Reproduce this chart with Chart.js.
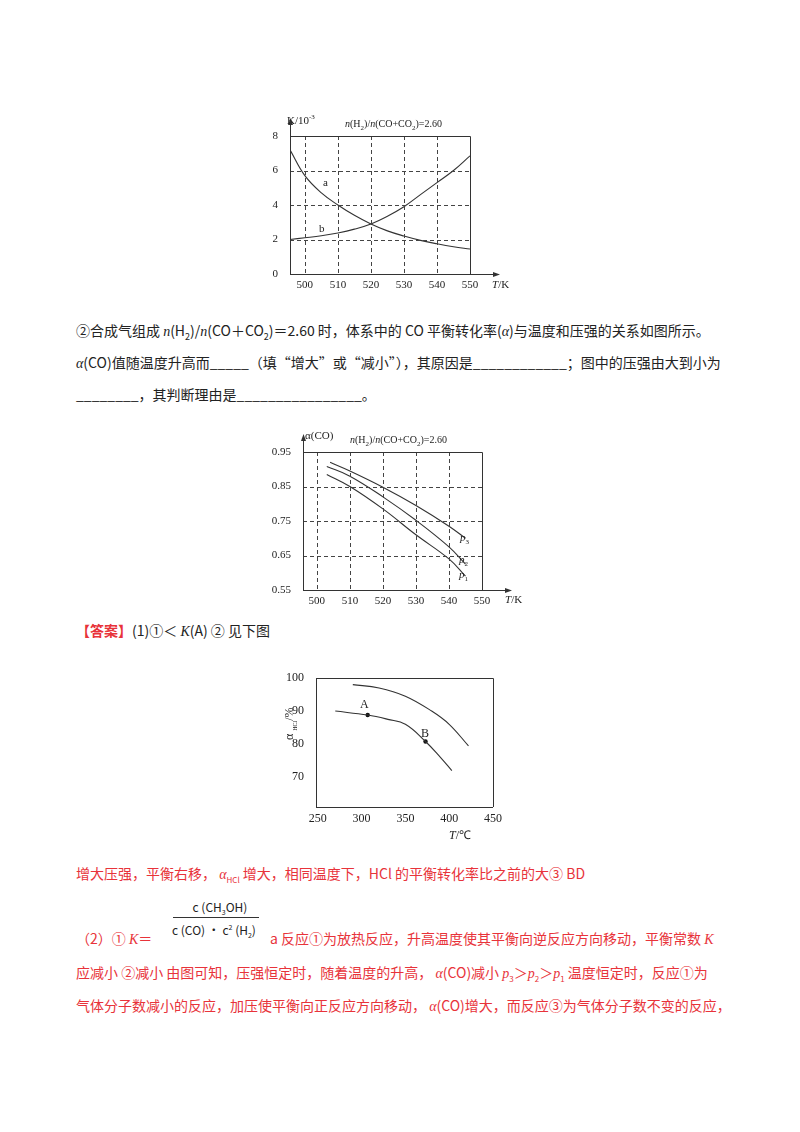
<!DOCTYPE html>
<html><head><meta charset="utf-8">
<script src="https://cdn.jsdelivr.net/npm/chart.js@4"></script>
<style>
body{margin:0;width:800px;height:1132px;background:#fff;position:relative;font-family:"Noto Sans CJK SC",sans-serif;color:#222}
.t{position:absolute;font-size:14px;white-space:nowrap;line-height:20px}
.r{color:#e8333a}
canvas{position:absolute}
.cv{position:absolute}
.lab{position:absolute;font-family:"Liberation Serif",serif;font-size:11px;white-space:nowrap}
i{font-family:"Liberation Serif",serif}
</style></head><body>
<div class="cv" style="left:250px;top:106px;width:270px;height:190px"><canvas id="c1"></canvas></div>
<div class="cv" style="left:260px;top:422px;width:270px;height:190px"><canvas id="c2"></canvas></div>
<div class="cv" style="left:276px;top:664px;width:240px;height:185px"><canvas id="c3"></canvas></div>

<div class="lab" style="left:287px;top:113px">K/10<sup style="font-size:7px">-3</sup></div>
<div class="lab" style="left:345px;top:118px;font-size:10px"><i>n</i>(H<sub style="font-size:7px">2</sub>)/<i>n</i>(CO+CO<sub style="font-size:7px">2</sub>)=2.60</div>
<div class="lab" style="left:323px;top:176px">a</div>
<div class="lab" style="left:319px;top:222px">b</div>
<div class="lab" style="left:492px;top:278px"><i>T</i>/K</div>

<div class="lab" style="left:305px;top:429px">α(CO)</div>
<div class="lab" style="left:350px;top:434px;font-size:10px"><i>n</i>(H<sub style="font-size:7px">2</sub>)/<i>n</i>(CO+CO<sub style="font-size:7px">2</sub>)=2.60</div>
<div class="lab" style="left:460px;top:531px"><i>p</i><sub style="font-size:7px">3</sub></div>
<div class="lab" style="left:459px;top:553px"><i>p</i><sub style="font-size:7px">2</sub></div>
<div class="lab" style="left:459px;top:568px"><i>p</i><sub style="font-size:7px">1</sub></div>
<div class="lab" style="left:505px;top:593px"><i>T</i>/K</div>

<div class="lab" style="left:360px;top:697px;font-size:12px">A</div>
<div class="lab" style="left:421px;top:726px;font-size:12px">B</div>
<div class="lab" style="left:270px;top:716px;transform:rotate(-90deg);font-size:12px;width:40px;text-align:center">α <sub style="font-size:6px">HCl</sub>/%</div>
<div class="lab" style="left:449px;top:826px;font-size:12px"><i>T</i>/℃</div>

<div class="t" style="left:76px;top:320px">②合成气组成 <i>n</i>(H<sub style="font-size:9px">2</sub>)/<i>n</i>(CO＋CO<sub style="font-size:9px">2</sub>)＝2.60 时，体系中的 CO 平衡转化率(<i>α</i>)与温度和压强的关系如图所示。</div>
<div class="t" style="left:76px;top:352px"><i>α</i>(CO)值随温度升高而_____（填“增大”或“减小”），其原因是____________；图中的压强由大到小为</div>
<div class="t" style="left:76px;top:384px">________，其判断理由是________________。</div>
<div class="t" style="left:76px;top:620px"><span class="r" style="font-weight:bold">【答案】</span>(1)①＜ <i>K</i>(A) ② 见下图</div>
<div class="t r" style="left:76px;top:863px">增大压强，平衡右移， <i>α</i><sub style="font-size:8px">HCl</sub> 增大，相同温度下，HCl 的平衡转化率比之前的大③ BD</div>
<div class="t" style="left:175px;top:900px;font-size:12px;line-height:14px;text-align:center;width:90px">c (CH<sub style="font-size:7px">3</sub>OH)</div>
<div style="position:absolute;left:173px;top:917px;width:86px;border-top:1px solid #333"></div>
<div class="t" style="left:172px;top:920px;font-size:12px;line-height:14px">c (CO) · c<sup style="font-size:7px">2</sup> (H<sub style="font-size:7px">2</sub>)</div>
<div class="t r" style="left:76px;top:928px">（2）① <i>K</i>＝</div>
<div class="t r" style="left:270px;top:928px">a  反应①为放热反应，升高温度使其平衡向逆反应方向移动，平衡常数 <i>K</i></div>
<div class="t r" style="left:76px;top:962px">应减小 ②减小 由图可知，压强恒定时，随着温度的升高， <i>α</i>(CO)减小 <i>p</i><sub style="font-size:8px">3</sub>＞<i>p</i><sub style="font-size:8px">2</sub>＞<i>p</i><sub style="font-size:8px">1</sub> 温度恒定时，反应①为</div>
<div class="t r" style="left:76px;top:995px">气体分子数减小的反应，加压使平衡向正反应方向移动， <i>α</i>(CO)增大，而反应③为气体分子数不变的反应，</div>

<script>
// chart 1
const T1 = [495.5,500,505,510,515,520,525,530,535,540,545,550];
const Ka = [7.2,5.7,4.7,4.0,3.4,2.9,2.5,2.2,1.95,1.75,1.58,1.45];
const Kb = [2.0,2.1,2.22,2.38,2.6,2.9,3.35,3.9,4.6,5.3,6.0,6.85];
const xTicks1 = [500,510,520,530,540,550];
const yTicks1 = [0,2,4,6,8];
// chart 2
const T2p3 = [504,510,520,530,540,545];
const P3 = [0.92,0.895,0.848,0.795,0.735,0.70];
const T2p2 = [503,510,520,530,540,545];
const P2 = [0.908,0.88,0.82,0.752,0.675,0.625];
const T2p1 = [503,510,520,530,540,545];
const P1 = [0.885,0.85,0.785,0.71,0.64,0.59];
const xTicks2 = [500,510,520,530,540,550];
const yTicks2 = [0.55,0.65,0.75,0.85,0.95];
// chart 3
const T3u = [290,320,350,380,400,422];
const Au = [98,97,94.5,90,86,79.5];
const T3l = [270,307,330,350,373,390,403];
const Al = [90,88.8,87.5,86,80.8,76,72];
const ptT = [307,373];
const ptA = [88.8,80.8];
const xTicks3 = [250,300,350,400,450];
const yTicks3 = [70,80,90,100];

const F = {family:'"Liberation Serif", serif', size:11};
const F3 = {family:'"Liberation Serif", serif', size:12};
function xy(xs, ys){return xs.map((x,i)=>({x, y:ys[i]}));}

function deco(o){ return {id:'deco', afterDraw(ch){
  const c=ch.ctx, a=ch.chartArea, sx=ch.scales.x, sy=ch.scales.y;
  c.save(); c.strokeStyle='#444'; c.lineWidth=1;
  c.setLineDash([4,3]);
  (o.vx||[]).forEach(v=>{const p=Math.round(sx.getPixelForValue(v))+.5;c.beginPath();c.moveTo(p,a.top);c.lineTo(p,a.bottom);c.stroke();});
  (o.hy||[]).forEach(v=>{const p=Math.round(sy.getPixelForValue(v))+.5;c.beginPath();c.moveTo(a.left,p);c.lineTo(a.right,p);c.stroke();});
  c.setLineDash([]);
  c.strokeStyle='#333';
  c.beginPath();
  c.moveTo(a.left+.5,a.bottom); c.lineTo(a.left+.5,a.top-(o.arrow?14:0));
  c.moveTo(a.left,a.bottom+.5); c.lineTo(a.right+(o.arrow?26:0),a.bottom+.5);
  c.moveTo(a.left,a.top+.5); c.lineTo(a.right+.5,a.top+.5); c.lineTo(a.right+.5,a.bottom);
  c.stroke();
  if(o.arrow){c.fillStyle='#333';c.beginPath();c.moveTo(a.left+.5,a.top-18);c.lineTo(a.left-2,a.top-11);c.lineTo(a.left+3,a.top-11);c.fill();
    c.beginPath();c.moveTo(a.right+30,a.bottom+.5);c.lineTo(a.right+23,a.bottom-2);c.lineTo(a.right+23,a.bottom+3);c.fill();}
  c.restore();
}};}

function mk(id, ds, xr, yr, xt, yt, pad, ywid, o){
  new Chart(document.getElementById(id), {
    type:'scatter',
    data:{datasets:ds},
    options:{responsive:true, maintainAspectRatio:false, animation:false,
      layout:{padding:pad},
      plugins:{legend:{display:false}, tooltip:{enabled:false}},
      scales:{
        x:{type:'linear', min:xr[0], max:xr[1], afterBuildTicks:s=>{s.ticks=xt.map(v=>({value:v}))},
           grid:{display:false, drawTicks:false, tickLength:0}, border:{display:false}, ticks:{color:'#222',font:o.font||F,padding:5,autoSkip:false,maxRotation:0,callback:v=>v},
           afterFit:s=>{s.height=20}},
        y:{type:'linear', min:yr[0], max:yr[1], afterBuildTicks:s=>{s.ticks=yt.map(v=>({value:v}))},
           grid:{display:false}, border:{display:false}, ticks:{color:'#222',font:o.font||F,padding:4,callback:v=>o.fmt?o.fmt(v):v},
           afterFit:s=>{s.width=ywid}}
      }},
    plugins:[deco(o)]
  });
}
const line = (d)=>({data:d, showLine:true, borderColor:'#333', borderWidth:1.1, pointRadius:0, tension:0.4, fill:false});

mk('c1',[line(xy(T1,Ka)),line(xy(T1,Kb))],[495.5,550],[0,8],xTicks1,yTicks1,{top:30,right:50,left:0,bottom:2},40,
   {vx:[500,510,520,530,540],hy:[2,4,6],arrow:true});
mk('c2',[line(xy(T2p3,P3)),line(xy(T2p2,P2)),line(xy(T2p1,P1))],[495.8,550],[0.55,0.95],xTicks2,yTicks2,{top:30,right:48,left:0,bottom:2},43,
   {vx:[500,510,520,530,540],hy:[0.65,0.75,0.85],arrow:true,fmt:v=>v.toFixed(2)});
mk('c3',[line(xy(T3u,Au)),line(xy(T3l,Al)),{data:xy(ptT,ptA),pointRadius:2.2,backgroundColor:'#111',borderWidth:0}],[248,450],[61,100],xTicks3,yTicks3,{top:14,right:23,left:0,bottom:22},40,
   {arrow:false,font:F3});
</script>
</body></html>
